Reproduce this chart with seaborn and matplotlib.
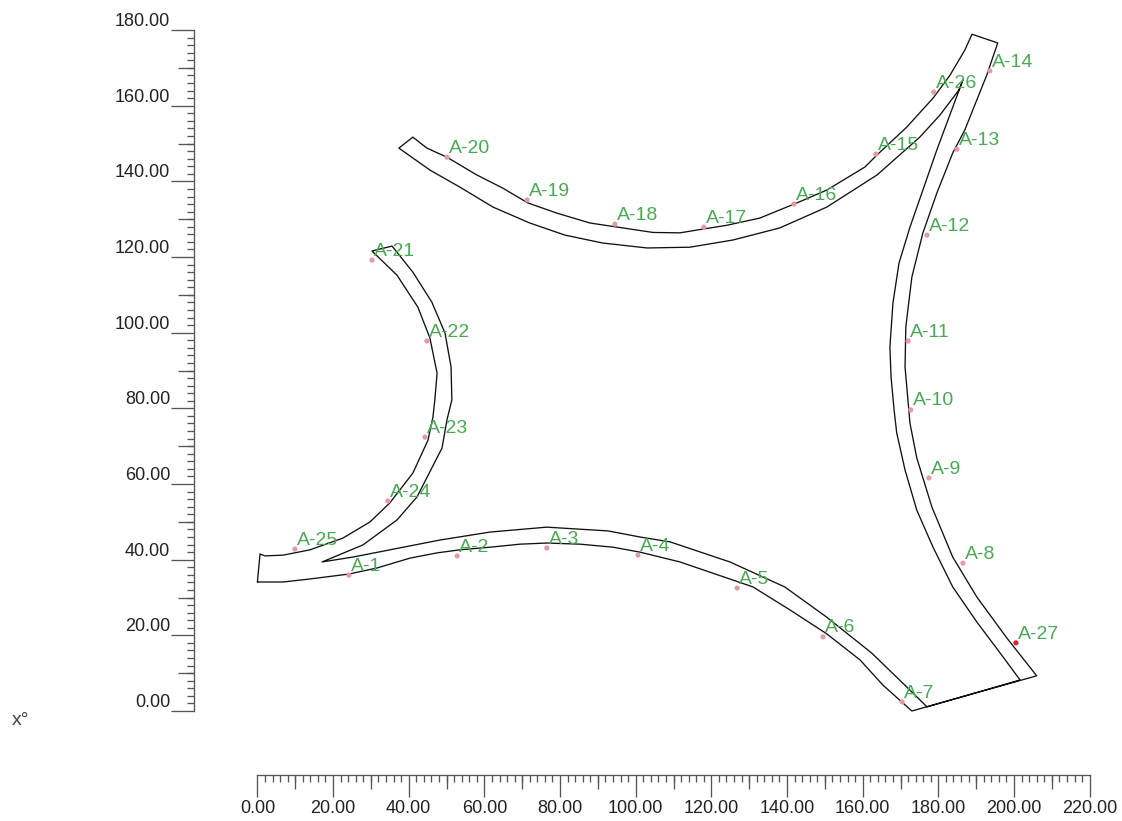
import matplotlib
matplotlib.use("Agg")
import matplotlib.pyplot as plt
import pandas as pd
import seaborn as sns

# outline of the section, one named piece per edge (x, y in chart units)
bottom_outer_x = [0.0, 6.8, 13.9, 24.2, 31.6, 40.3, 47.5, 53.5, 61.5, 69.4, 76.5, 85.3, 94.0, 101.1, 111.7, 125.7, 131.0, 140.8, 150.5, 159.3, 165.3, 173.0, 206.0]
bottom_outer_y = [34.1, 34.1, 34.9, 36.2, 37.8, 40.4, 41.8, 42.6, 43.3, 44.1, 44.4, 44.1, 43.3, 42.0, 39.4, 34.6, 32.8, 26.7, 20.4, 13.5, 6.9, 0.0, 9.3]
right_outer_x = [198.1, 190.2, 183.8, 178.3, 174.3, 172.5, 171.2, 171.4, 173.0, 175.9, 179.6, 183.8, 187.0, 192.8, 195.7, 188.9]
right_outer_y = [19.3, 30.1, 40.7, 53.9, 66.9, 76.1, 90.9, 101.5, 114.7, 126.3, 136.9, 147.5, 153.6, 168.1, 176.6, 178.9]
top_outer_x = [187.0, 183.1, 178.6, 171.7, 163.8, 160.6, 150.5, 142.6, 132.8, 124.1, 117.8, 111.7, 104.6, 96.6, 87.9, 79.2, 71.5, 64.9, 58.0, 50.1, 44.8, 41.1, 37.4]
top_outer_y = [174.7, 168.1, 162.0, 154.4, 147.0, 143.8, 137.7, 134.3, 130.3, 128.4, 127.4, 126.4, 126.5, 127.7, 129.0, 131.6, 134.3, 138.2, 141.7, 146.4, 148.8, 151.7, 148.8]
top_inner_x = [45.6, 53.5, 62.3, 72.0, 81.3, 91.3, 103.0, 114.3, 125.7, 138.1, 150.5, 163.8, 175.1, 180.4, 185.4, 186.5]
top_inner_y = [143.0, 138.5, 133.2, 129.0, 125.8, 123.7, 122.4, 122.6, 124.5, 127.7, 133.2, 141.7, 151.7, 157.5, 164.1, 166.8]
right_inner_x = [183.8, 179.6, 175.9, 172.5, 169.6, 168.0, 167.2, 167.5, 168.3, 169.0, 171.2, 174.3, 178.6, 183.8, 190.2, 197.1, 201.6]
right_inner_y = [159.6, 148.3, 137.7, 127.9, 118.4, 107.8, 96.2, 88.3, 79.6, 73.5, 63.7, 53.1, 43.3, 32.8, 23.5, 14.3, 8.2]
bottom_inner_x = [177.0, 171.7, 162.4, 150.5, 139.4, 124.9, 109.1, 101.1, 92.7, 76.5, 61.5, 48.3, 25.3, 17.1]
bottom_inner_y = [1.1, 6.3, 15.3, 24.8, 32.8, 39.4, 44.7, 46.0, 47.6, 48.6, 47.3, 45.2, 40.7, 39.4]
left_outer_x = [27.9, 36.9, 42.2, 48.8, 50.1, 51.4, 51.2, 49.6, 46.1, 41.1, 35.6, 30.3]
left_outer_y = [43.9, 50.5, 56.6, 69.5, 76.9, 82.2, 90.9, 99.9, 108.1, 116.0, 122.9, 121.6]
left_inner_x = [36.9, 42.4, 45.6, 47.5, 46.9, 46.4, 45.1, 41.1, 35.0, 29.8, 22.6, 13.9, 6.8, 2.0, 0.7, 0.0]
left_inner_y = [115.2, 106.8, 98.6, 89.3, 82.2, 77.7, 71.6, 62.9, 55.0, 50.0, 45.7, 42.6, 41.2, 41.0, 41.5, 34.1]

# labelled points
point_names = [f"A-{i}" for i in range(1, 28)]
point_x = [24.2, 52.8, 76.5, 100.6, 126.8, 149.5, 170.4, 186.5, 177.5, 172.7, 172.0, 177.0, 184.9, 193.6,
           163.5, 141.8, 118.0, 94.5, 71.3, 50.1, 30.3, 44.8, 44.3, 34.5, 9.9, 178.8, 200.5]
point_y = [35.9, 41.0, 43.1, 41.2, 32.5, 19.6, 2.4, 39.1, 61.6, 79.6, 97.8, 125.8, 148.5, 169.2,
           147.2, 134.0, 127.9, 128.7, 135.1, 146.4, 119.2, 97.8, 72.4, 55.5, 42.8, 163.6, 18.0]
highlighted = ["A-27"]

x_major = list(range(0, 221, 20))
y_major = list(range(0, 181, 20))
x_mid = list(range(10, 220, 20))
y_mid = list(range(10, 180, 20))
x_minor = list(range(0, 221, 2))
y_minor = list(range(0, 181, 2))

sns.set_theme(style="white")
plt.rcParams["font.family"] = ["Liberation Sans", "DejaVu Sans"]

DPI = 100
fig = plt.figure(figsize=(11.22, 8.21), dpi=DPI)
ax = fig.add_axes([0, 0, 1, 1])
ax.patch.set_alpha(0)

outline = pd.DataFrame({
    "x": bottom_outer_x + right_outer_x + top_outer_x + top_inner_x + right_inner_x + bottom_inner_x + left_outer_x + left_inner_x,
    "y": bottom_outer_y + right_outer_y + top_outer_y + top_inner_y + right_inner_y + bottom_inner_y + left_outer_y + left_inner_y,
})
sns.lineplot(data=outline, x="x", y="y", sort=False, estimator=None, color="#111111",
             linewidth=0.95, ax=ax, legend=False)

points = pd.DataFrame({"x": point_x, "y": point_y, "name": point_names})
points["kind"] = ["hot" if n in highlighted else "normal" for n in point_names]
sns.scatterplot(data=points, x="x", y="y", hue="kind", palette={"normal": "#E39AA4", "hot": "#E8202A"},
                s=14, marker="o", linewidth=0, ax=ax, legend=False, zorder=3)

for name, px, py in zip(point_names, point_x, point_y):
    ax.annotate(name, (px, py), xytext=(1.6, 6.4), textcoords="offset points",
                fontsize=14, color="#4CA856", va="center", ha="left", zorder=4)

# data range mapped so the scales sit where they do in the reference
ax.set_xlim(-68.04, 228.55)
ax.set_ylim(-29.08, 187.95)
ax.set_xlabel("")
ax.set_ylabel("")

AXIS = "#555555"
left_frac = 194.0 / 1122
bottom_frac = (821 - 774.5) / 821

for side in ("top", "right"):
    ax.spines[side].set_visible(False)
ax.spines["left"].set_position(("axes", left_frac))
ax.spines["bottom"].set_position(("axes", bottom_frac))
ax.spines["left"].set_bounds(0, 180)
ax.spines["bottom"].set_bounds(0, 220)
for side in ("left", "bottom"):
    ax.spines[side].set_color(AXIS)
    ax.spines[side].set_linewidth(0.95)

ax.set_xticks(x_major)
ax.set_yticks(y_major)
ax.set_xticks(x_minor, minor=True)
ax.set_yticks(y_minor, minor=True)
ax.set_xticklabels([f"{v:.2f}" for v in x_major])
ax.set_yticklabels([f"{v:.2f}" for v in y_major])
ax.tick_params(axis="x", which="major", direction="out", length=16, width=0.95, color=AXIS,
               labelsize=13, labelcolor="#222222", pad=2.5, bottom=True)
ax.tick_params(axis="y", which="major", direction="out", length=16.5, width=0.95, color=AXIS,
               labelsize=13, labelcolor="#222222", pad=0.7, left=True)
ax.tick_params(axis="both", which="minor", direction="out", length=5.3, width=0.95, color=AXIS,
               bottom=True, left=True)
for lab in ax.get_yticklabels():
    lab.set_va("bottom")

sec_x = ax.secondary_xaxis(bottom_frac)
sec_x.set_xticks(x_mid)
sec_x.set_xticklabels([])
sec_x.tick_params(axis="x", direction="out", length=10, width=0.95, color=AXIS)
sec_x.spines["bottom"].set_visible(False)

sec_y = ax.secondary_yaxis(left_frac)
sec_y.set_yticks(y_mid)
sec_y.set_yticklabels([])
sec_y.tick_params(axis="y", direction="out", length=11.3, width=0.95, color=AXIS)
sec_y.spines["left"].set_visible(False)

fig.text(12.0 / 1122, 1 - 725.0 / 821, "x°", fontsize=14, color="#444444", ha="left", va="baseline")

fig.savefig("out.png", dpi=DPI, facecolor="white")
